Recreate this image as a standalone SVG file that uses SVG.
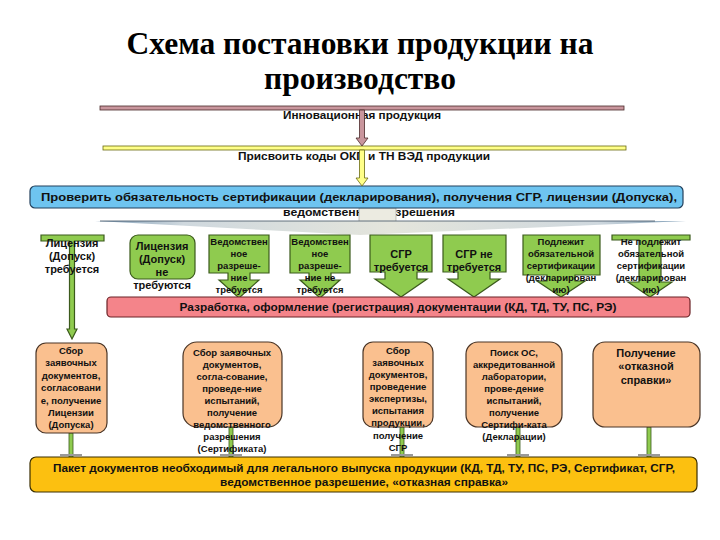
<svg xmlns="http://www.w3.org/2000/svg" width="720" height="540" viewBox="0 0 720 540">
<defs>
<linearGradient id="fun" x1="0" y1="0" x2="1" y2="0">
<stop offset="0" stop-color="#7f9db6"/>
<stop offset="0.15" stop-color="#cfd8de"/>
<stop offset="0.5" stop-color="#e4e5dc"/>
<stop offset="0.85" stop-color="#cfd8de"/>
<stop offset="1" stop-color="#7f9db6"/>
</linearGradient>
<style>
text{font-family:"Liberation Sans",Arial,sans-serif;font-weight:bold;fill:#111;text-anchor:middle}
.title{font-family:"Liberation Serif","Times New Roman",serif;font-size:31.5px;fill:#000}
.t11{font-size:11px}
.t10{font-size:10px}
.t9{font-size:9.5px}
.green{fill:#8fcb4f;stroke:#3b5a1c;stroke-width:1.2}
.orange{fill:#fac08f;stroke:#4a3526;stroke-width:1.2}
.conn{fill:#8fcb4f;stroke:#3b5a1c;stroke-width:0.8}
</style>
</defs>
<rect width="720" height="540" fill="#fff"/>
<text class="title" x="360" y="54">Схема постановки продукции на</text>
<text class="title" x="360" y="89">производство</text>

<g id="innov">
<rect x="100" y="106" width="524" height="4" fill="#c9969d" stroke="#4a2a2a" stroke-width="0.8"/>
<text class="t11" x="362" y="119" textLength="158" lengthAdjust="spacingAndGlyphs">Инновационная продукция</text>
</g>
<g id="codes">
<rect x="103" y="146" width="523" height="4" fill="#ffff88" stroke="#6a6a10" stroke-width="0.8"/>
<text class="t11" x="364" y="160" textLength="252" lengthAdjust="spacingAndGlyphs">Присвоить коды ОКП и ТН ВЭД продукции</text>
</g>

<g id="check">
<text class="t11" x="369" y="216" textLength="172" lengthAdjust="spacingAndGlyphs">ведомственное разрешения</text>
<rect x="359" y="208" width="37" height="14" fill="#ecebe1" stroke="#9a9a90" stroke-width="0.6"/>
<polygon points="95,221 686,221 360,235" fill="url(#fun)"/>
<line x1="100" y1="221" x2="655" y2="221" stroke="#3f5062" stroke-width="0.8"/>
<rect x="30" y="186" width="653" height="22" rx="5" fill="#6ec4f0" stroke="#23405c" stroke-width="1.2"/>
<text class="t11" x="359" y="201" textLength="636" lengthAdjust="spacingAndGlyphs">Проверить обязательность сертификации (декларирования), получения СГР, лицензии (Допуска),</text>
</g>

<g id="connectors">
<path d="M359.5,110 H364.5 V138 H368 L362,146 L356,138 H359.5 Z" fill="#c9969d" stroke="#4a2a2a" stroke-width="0.8"/>
<path d="M359.5,150 H364.5 V178 H368 L362,186 L356,178 H359.5 Z" fill="#ffff88" stroke="#6a6a10" stroke-width="0.8"/>
<rect class="conn" x="69" y="433" width="4" height="24"/>
<rect class="conn" x="229" y="427" width="4" height="30"/>
<rect class="conn" x="400" y="427" width="4" height="30"/>
<rect class="conn" x="516" y="427" width="4" height="30"/>
<rect class="conn" x="647" y="427" width="4" height="30"/>
<g fill="#9a9a9a">
<rect x="60" y="454" width="22" height="2"/>
<rect x="220" y="454" width="22" height="2"/>
<rect x="391" y="454" width="22" height="2"/>
<rect x="507" y="454" width="22" height="2"/>
<rect x="638" y="454" width="22" height="2"/>
</g>
</g>

<g id="lic-req">
<path class="green" d="M41,235 H104 V241 H74.5 V329 H77 L72,339 L67,329 H69.5 V241 H41 Z"/>
<text class="t11" x="72" y="247">Лицензия</text>
<text class="t11" x="72" y="260">(Допуск)</text>
<text class="t11" x="72" y="273">требуется</text>
</g>
<g id="lic-noreq">
<rect class="green" x="130" y="235" width="65" height="44" rx="8"/>
<text class="t11" x="162" y="250">Лицензия</text>
<text class="t11" x="162" y="263">(Допуск)</text>
<text class="t11" x="162" y="276">не</text>
<text class="t11" x="162" y="289">требуются</text>
</g>
<g id="ved-req">
<path class="green" d="M209,235 H269 V273 H250 V280 H259 L239,298 L219,280 H228 V273 H209 Z"/>
<text class="t9" x="239" y="245">Ведомствен</text>
<text class="t9" x="239" y="257">ное</text>
<text class="t9" x="239" y="269">разреше-</text>
<text class="t9" x="239" y="281">ние</text>
<text class="t9" x="239" y="293">требуется</text>
</g>
<g id="ved-noreq">
<path class="green" d="M290,235 H350 V273 H331 V280 H340 L320,298 L300,280 H309 V273 H290 Z"/>
<text class="t9" x="320" y="245">Ведомствен</text>
<text class="t9" x="320" y="257">ное</text>
<text class="t9" x="320" y="269">разреше-</text>
<text class="t9" x="320" y="281">ние не</text>
<text class="t9" x="320" y="293">требуется</text>
</g>
<g id="sgr-req">
<path class="green" d="M370,235 H432 V272 H417 V279 H427 L401,297 L375,279 H385 V272 H370 Z"/>
<text class="t11" x="401" y="258">СГР</text>
<text class="t11" x="401" y="271">требуется</text>
</g>
<g id="sgr-noreq">
<path class="green" d="M443,235 H506 V272 H490 V279 H500 L474,297 L448,279 H458 V272 H443 Z"/>
<text class="t11" x="474" y="258">СГР не</text>
<text class="t11" x="474" y="271">требуется</text>
</g>
<g id="cert-req">
<path class="green" d="M523,235 H600 V275 H575 V281 H585 L561,297 L537,281 H547 V275 H523 Z"/>
<text class="t9" x="561" y="245">Подлежит</text>
<text class="t9" x="561" y="257">обязательной</text>
<text class="t9" x="561" y="269">сертификации</text>
<text class="t9" x="561" y="281">(декларирован</text>
<text class="t9" x="561" y="293">ию)</text>
</g>
<g id="cert-noreq">
<path class="green" d="M612,235 H690 V240 H661 V282 H672 L650,297 L628,282 H639 V240 H612 Z"/>
<text class="t9" x="651" y="245">Не подлежит</text>
<text class="t9" x="651" y="257">обязательной</text>
<text class="t9" x="651" y="269">сертификации</text>
<text class="t9" x="651" y="281">(декларирован</text>
<text class="t9" x="651" y="293">ию)</text>
</g>

<g id="docs">
<rect x="107" y="297" width="583" height="20" rx="4" fill="#f4848a" stroke="#6a2226" stroke-width="1.2"/>
<text class="t11" x="398" y="311" textLength="437" lengthAdjust="spacingAndGlyphs">Разработка, оформление (регистрация) документации (КД, ТД, ТУ, ПС, РЭ)</text>
</g>

<g id="o1">
<rect class="orange" x="36" y="343" width="71" height="90" rx="10"/>
<text class="t9" x="71" y="354">Сбор</text>
<text class="t9" x="71" y="366">заявочных</text>
<text class="t9" x="71" y="379">документов,</text>
<text class="t9" x="71" y="391">согласовани</text>
<text class="t9" x="71" y="404">е, получение</text>
<text class="t9" x="71" y="416">Лицензии</text>
<text class="t9" x="71" y="428">(Допуска)</text>
</g>
<g id="o2">
<rect class="orange" x="183" y="342" width="99" height="85" rx="14"/>
<text class="t9" x="232" y="356">Сбор заявочных</text>
<text class="t9" x="232" y="368">документов,</text>
<text class="t9" x="232" y="380">согла-сование,</text>
<text class="t9" x="232" y="392">проведе-ние</text>
<text class="t9" x="232" y="404">испытаний,</text>
<text class="t9" x="232" y="416">получение</text>
<text class="t9" x="232" y="428">ведомственного</text>
<text class="t9" x="232" y="440">разрешения</text>
<text class="t9" x="232" y="452">(Сертификата)</text>
</g>
<g id="o3">
<rect class="orange" x="363" y="342" width="70" height="85" rx="10"/>
<text class="t9" x="398" y="354">Сбор</text>
<text class="t9" x="398" y="366">заявочных</text>
<text class="t9" x="398" y="378">документов,</text>
<text class="t9" x="398" y="390">проведение</text>
<text class="t9" x="398" y="402">экспертизы,</text>
<text class="t9" x="398" y="414">испытания</text>
<text class="t9" x="398" y="426">продукции,</text>
<text class="t9" x="398" y="439">получение</text>
<text class="t9" x="398" y="451">СГР</text>
</g>
<g id="o4">
<rect class="orange" x="466" y="342" width="96" height="85" rx="12"/>
<text class="t9" x="514" y="356">Поиск ОС,</text>
<text class="t9" x="514" y="368">аккредитованной</text>
<text class="t9" x="514" y="380">лаборатории,</text>
<text class="t9" x="514" y="392">прове-дение</text>
<text class="t9" x="514" y="404">испытаний,</text>
<text class="t9" x="514" y="416">получение</text>
<text class="t9" x="514" y="428">Сертифи-ката</text>
<text class="t9" x="514" y="440">(Декларации)</text>
</g>
<g id="o5">
<rect class="orange" x="593" y="342" width="107" height="85" rx="12"/>
<text class="t11" x="646" y="357">Получение</text>
<text class="t11" x="646" y="370">«отказной</text>
<text class="t11" x="646" y="384">справки»</text>
</g>

<g id="package">
<rect x="30" y="457" width="667" height="35" rx="6" fill="#fcc010" stroke="#3a2e00" stroke-width="1.2"/>
<text class="t11" x="364" y="472" textLength="622" lengthAdjust="spacingAndGlyphs">Пакет документов необходимый для легального выпуска продукции (КД, ТД, ТУ, ПС, РЭ, Сертификат, СГР,</text>
<text class="t11" x="364" y="486" textLength="288" lengthAdjust="spacingAndGlyphs">ведомственное разрешение, «отказная справка»</text>
</g>
</svg>
